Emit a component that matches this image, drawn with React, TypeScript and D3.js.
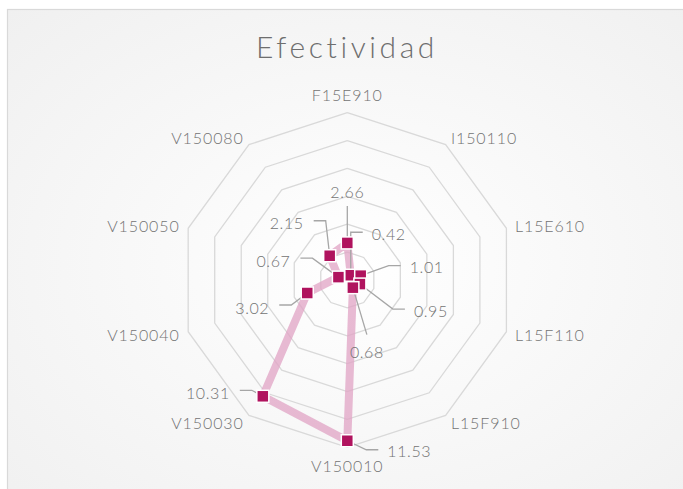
import React from "react";
import * as d3 from "d3";

const categories = ["F15E910", "I150110", "L15E610", "L15F110", "L15F910", "V150010", "V150030", "V150040", "V150050", "V150080"];
const values = [2.66, 0.42, 1.01, 0.95, 0.68, 11.53, 10.31, 3.02, 0.67, 2.15];
const ringTicks = [2, 4, 6, 8, 10, 12];
const title = "Efectividad";

// label layout: offset of text anchor from the marker, and anchor type
const labelLayout: { dx: number; dy: number; anchor: "start" | "end" | "middle" }[] = [
  { dx: 0, dy: -51, anchor: "middle" },
  { dx: 21, dy: -42, anchor: "start" },
  { dx: 49, dy: -9, anchor: "start" },
  { dx: 54, dy: 26, anchor: "start" },
  { dx: 14, dy: 64, anchor: "middle" },
  { dx: 40, dy: 10, anchor: "start" },
  { dx: -33, dy: -4, anchor: "end" },
  { dx: -38, dy: 14, anchor: "end" },
  { dx: -48, dy: -17, anchor: "end" },
  { dx: -26, dy: -33, anchor: "end" },
];

const W = 683;
const H = 489;
const cx = 347.3;
const cy = 280;
const R = 167.3;
const FONT = "'Century Gothic', Lato, 'DejaVu Sans', sans-serif";
const TEXT = "#737373";

export default function App() {
  const angle = d3.scaleBand<string>().domain(categories).range([0, 2 * Math.PI]).align(0).paddingInner(0).paddingOuter(0);
  const r = d3.scaleLinear().domain([0, 12]).range([0, R]);
  const ang = (c: string) => angle(c) as number;
  const pt = (c: string, v: number): [number, number] => {
    const a = ang(c);
    return [cx + r(v) * Math.sin(a), cy - r(v) * Math.cos(a)];
  };

  const ringPath = (v: number) =>
    d3.line()(categories.map((c) => pt(c, v)).concat([pt(categories[0], v)])) as string;

  const dataPts = categories.map((c, i) => pt(c, values[i]));
  const seriesPath = d3.line().curve(d3.curveLinearClosed)(dataPts) as string;

  return (
    <svg width={W} height={H} style={{ position: "absolute", left: 0, top: 0 }}>
      <defs>
        <radialGradient id="bg" cx="50%" cy="50%" r="75%">
          <stop offset="0%" stopColor="#ffffff" />
          <stop offset="100%" stopColor="#efefef" />
        </radialGradient>
      </defs>
      <rect x={0} y={0} width={W} height={H} fill="#ffffff" />
      <rect x={7.5} y={9.5} width={W + 20} height={H + 20} fill="url(#bg)" stroke="#d9d9d9" strokeWidth={1.2} />
      <text x={347} y={58} textAnchor="middle" fontFamily={FONT} fontWeight={300} fontSize={30} fill="#6e6e6e" letterSpacing={3.6}>
        {title}
      </text>
      {ringTicks.map((t) => (
        <path key={t} d={ringPath(t)} fill="none" stroke="#d9d9d9" strokeWidth={1.3} />
      ))}
      {categories.map((c) => {
        const a = ang(c);
        const lr = R + 9;
        const s = Math.sin(a);
        const co = Math.cos(a);
        let x = cx + lr * s;
        let y = cy - lr * co;
        let anchor: "start" | "end" | "middle" = "middle";
        if (s > 0.1) anchor = "start";
        else if (s < -0.1) anchor = "end";
        else y += co > 0 ? -9 : 9;
        return (
          <text key={c} x={x} y={y} textAnchor={anchor} dominantBaseline="central" fontFamily={FONT} fontWeight={300} fontSize={16} letterSpacing={0.9} fill={TEXT}>
            {c}
          </text>
        );
      })}
      <path d={seriesPath} fill="none" stroke="#e0a3c4" strokeOpacity={0.75} strokeWidth={8} strokeLinejoin="round" />
      {categories.map((c, i) => {
        const [mx, my] = dataPts[i];
        const L = labelLayout[i];
        const tx = mx + L.dx;
        const ty = my + L.dy;
        let pts: [number, number][];
        if (L.anchor === "start") pts = [[tx - 9, ty - 1], [tx - 21, ty - 1], [mx, my]];
        else if (L.anchor === "end") pts = [[tx + 10, ty - 2], [tx + 22, ty - 2], [mx, my]];
        else pts = [[tx, ty + (L.dy < 0 ? 14 : -17)], [mx, my]];
        return (
          <g key={c}>
            <path d={d3.line()(pts) as string} fill="none" stroke="#a6a6a6" strokeWidth={1.3} />
          </g>
        );
      })}
      {categories.map((c, i) => {
        const [mx, my] = dataPts[i];
        return <rect key={c} x={mx - 6} y={my - 6} width={12} height={12} fill="#b0135e" stroke="#ffffff" strokeWidth={1.5} />;
      })}
      {categories.map((c, i) => {
        const [mx, my] = dataPts[i];
        const L = labelLayout[i];
        return (
          <text key={c} x={mx + L.dx} y={my + L.dy} textAnchor={L.anchor} dominantBaseline="central" fontFamily={FONT} fontWeight={300} fontSize={16} letterSpacing={0.6} fill={TEXT}>
            {values[i].toFixed(2)}
          </text>
        );
      })}
    </svg>
  );
}
